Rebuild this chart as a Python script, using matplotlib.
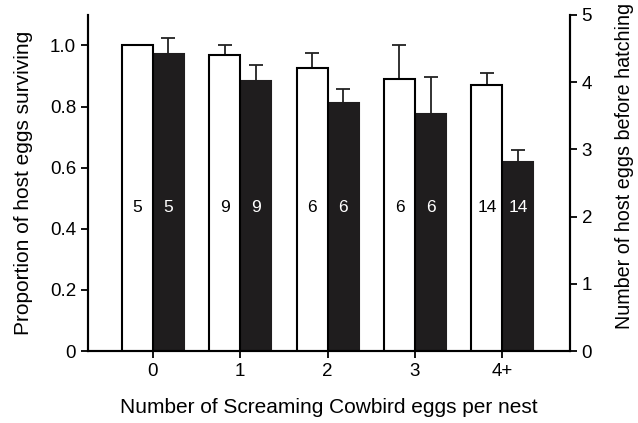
import numpy as np
import matplotlib
matplotlib.use('Agg')
import matplotlib.pyplot as plt

plt.rcParams['font.family'] = ['Liberation Sans', 'DejaVu Sans']

groups = ['0', '1', '2', '3', '4+']
prop_surv = [1.0, 0.970, 0.925, 0.889, 0.869]
prop_err = [0.0, 0.030, 0.049, 0.111, 0.042]
n_eggs = [4.42, 4.02, 3.69, 3.52, 2.81]
n_eggs_err = [0.23, 0.23, 0.20, 0.55, 0.18]
n_nests = [5, 9, 6, 6, 14]

x = np.arange(len(groups))
w = 0.355

fig = plt.figure(figsize=(6.38, 4.23), dpi=100)
ax = fig.add_axes([0.138, 0.170, 0.755, 0.795])
ax2 = ax.twinx()

ax.bar(x - w/2, prop_surv, w, color='white', edgecolor='black', linewidth=1.5, zorder=2)
ax.errorbar(x - w/2, prop_surv, yerr=[np.zeros(5), prop_err], fmt='none',
            ecolor='#222222', elinewidth=1.3, capsize=5, capthick=1.3, zorder=1)
ax2.bar(x + w/2, n_eggs, w, color='#1f1d1e', edgecolor='#1f1d1e', linewidth=1.5, zorder=2)
ax2.errorbar(x + w/2, n_eggs, yerr=[np.zeros(5), n_eggs_err], fmt='none',
             ecolor='#222222', elinewidth=1.3, capsize=5, capthick=1.3, zorder=1)

for xi, n in zip(x, n_nests):
    ax.text(xi - w/2, 0.47, str(n), ha='center', va='center', fontsize=12.5, color='black', zorder=5)
    ax.text(xi + w/2, 0.47, str(n), ha='center', va='center', fontsize=12.5, color='white', zorder=5)
ax.set_zorder(ax2.get_zorder() + 1)
ax.patch.set_visible(False)

ax.set_xlim(-0.74, 4.77)
ax.set_ylim(0, 1.1)
ax2.set_ylim(0, 5)
ax.set_xticks(x)
ax.set_xticklabels(groups)
ax.set_yticks([0, 0.2, 0.4, 0.6, 0.8, 1.0])
ax.set_yticklabels(['0', '0.2', '0.4', '0.6', '0.8', '1.0'])
ax2.set_yticks([0, 1, 2, 3, 4, 5])

for a in (ax, ax2):
    a.spines['top'].set_visible(False)
    for s in ('left', 'right', 'bottom'):
        a.spines[s].set_linewidth(1.5)
    a.tick_params(width=1.3, length=5, labelsize=13.5)

ax.set_xlabel('Number of Screaming Cowbird eggs per nest', fontsize=15, labelpad=13)
ax.set_ylabel('Proportion of host eggs surviving', fontsize=15, labelpad=12)
ax2.set_ylabel('Number of host eggs before hatching', fontsize=14.2)
ax2.yaxis.set_label_coords(1.093, 0.55)

fig.savefig('out.png', dpi=100)
